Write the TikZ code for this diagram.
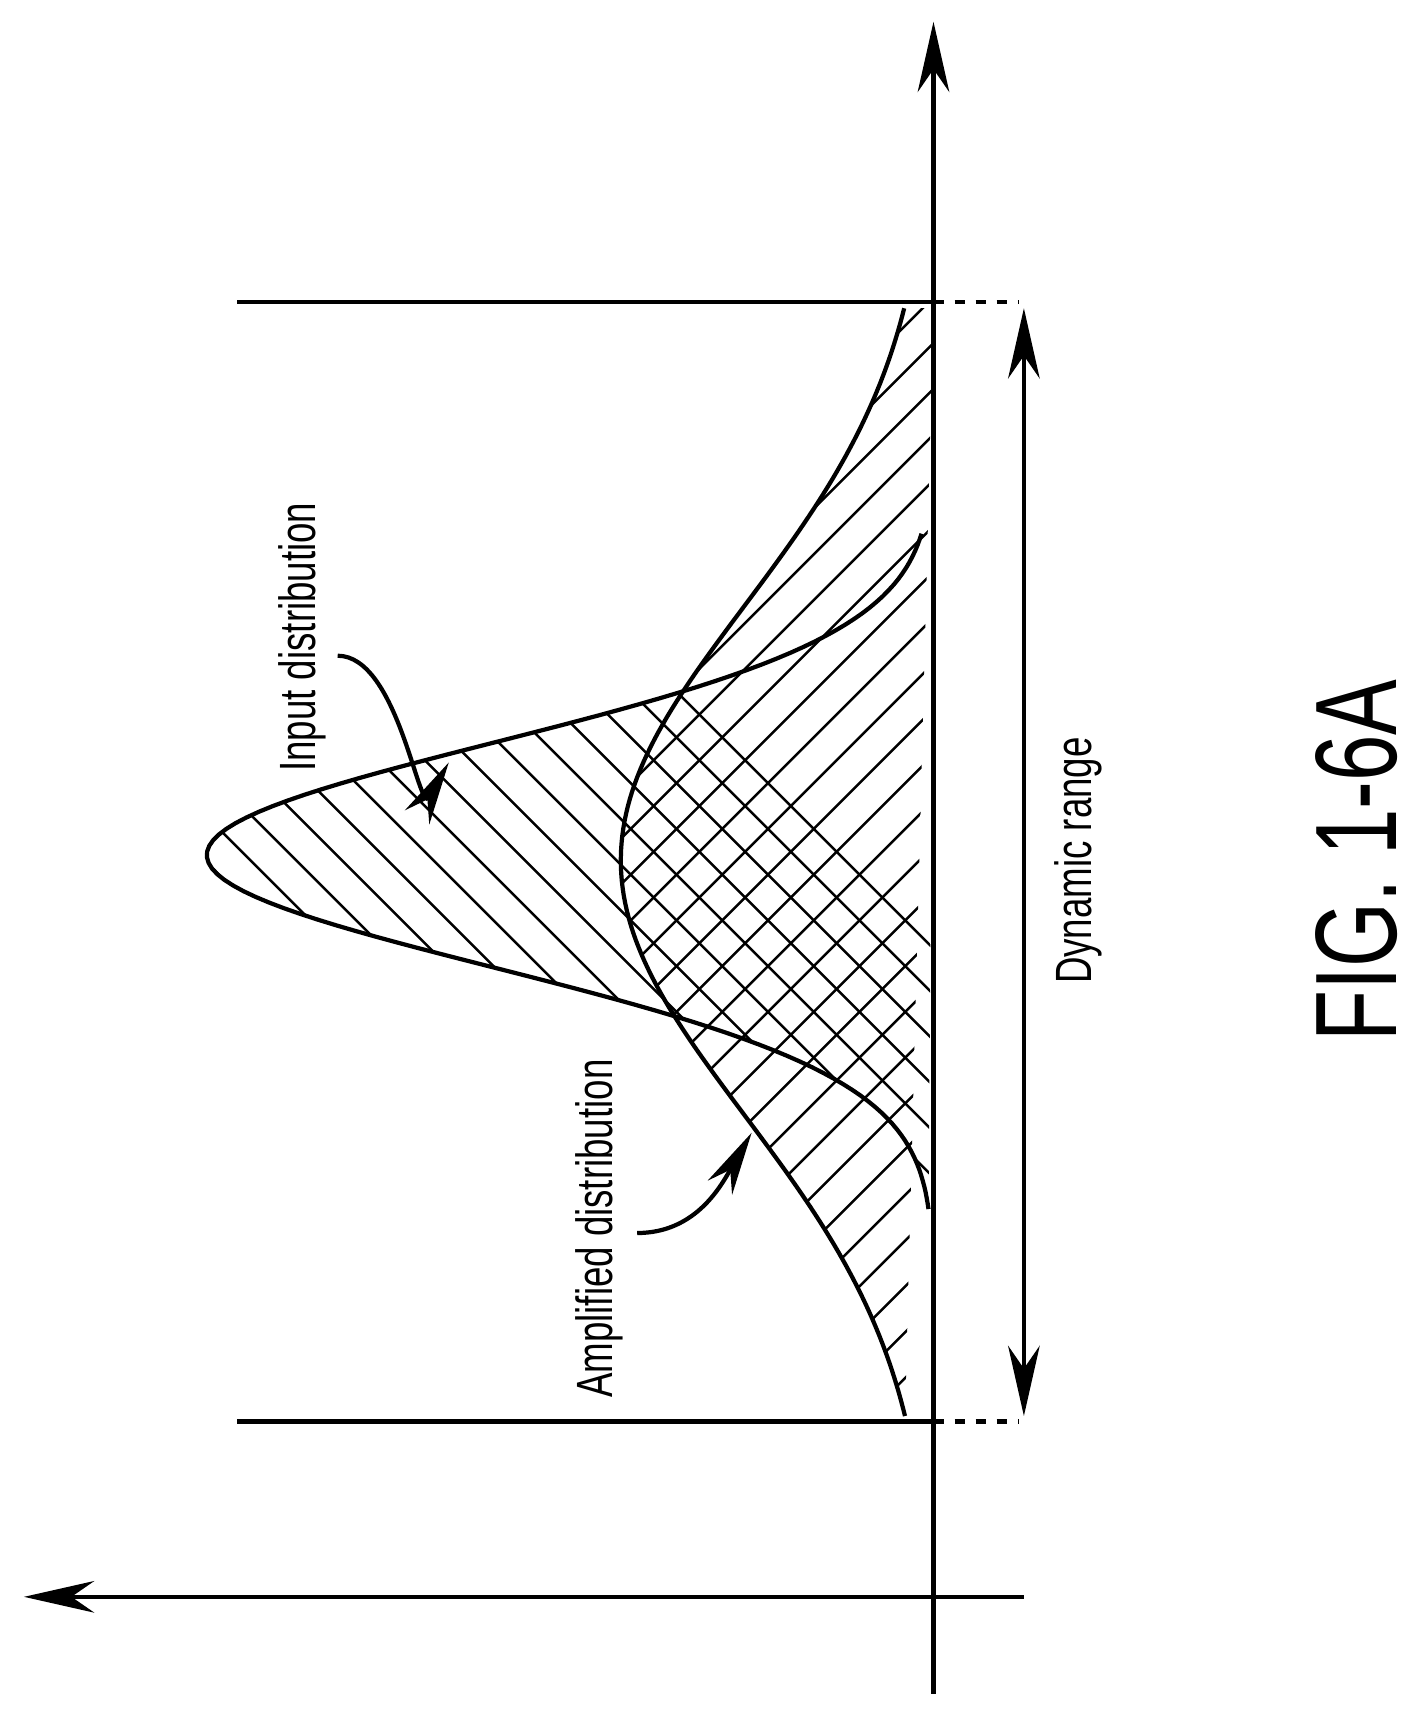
\documentclass[tikz,border=0pt]{standalone}
\usepackage{fontspec}
\newfontfamily\narrowfont[FakeStretch=0.72]{Liberation Sans}
\usetikzlibrary{arrows.meta}
\tikzset{
  axis/.style={line width=1.2pt, -{Stealth[length=20pt,width=9pt]}},
  curve/.style={line width=1.2pt},
  hatch/.style={line width=0.7pt},
  label/.style={font=\narrowfont\fontsize{14.5}{16}\selectfont, rotate=90},
  pointer/.style={line width=1.2pt, -{Stealth[length=18pt,width=8pt]}}
}
\begin{document}
\begin{tikzpicture}[x=0.010892cm, y=-0.010892cm]
\useasboundingbox (0,0) rectangle (1300,1574.5);

% axes
\draw [axis] (857,1555) -- (857,20);
\draw [axis] (940,1466) -- (22,1466);

% bounds of the dynamic range
\draw [line width=1.2pt] (218,277) -- (857,277);
\draw [line width=1.2pt] (218,1305) -- (857,1305);
\draw [line width=1.2pt, dashed] (857,277) -- (935,277);
\draw [line width=1.2pt, dashed] (857,1305) -- (935,1305);
\draw [line width=1.2pt, {Stealth[length=20pt,width=9pt]}-{Stealth[length=20pt,width=9pt]}] (940,283) -- (940,1300);

% hatching
\begin{scope}
\clip (857,490) -- plot[domain=490:1110, samples=120, variable=\t] ({857-667*exp(-((\t-785)/103)^2/2)}, \t) -- cycle;
\foreach \k in {-1400,-1358,...,0}{\draw [hatch] (\k,0) -- ++(2000,2000);}
\end{scope}
\begin{scope}
\clip (857,283) -- plot[domain=283:1300, samples=150, variable=\t] ({857-287*exp(-((\t-790)/233)^2/2)}, \t) -- cycle;
\foreach \k in {500,542,...,2300}{\draw [hatch] (\k,0) -- ++(-2000,2000);}
\end{scope}

% curves
\draw [curve] plot[domain=490:1110, samples=120, variable=\t] ({857-667*exp(-((\t-785)/103)^2/2)}, \t);
\draw [curve] plot[domain=283:1300, samples=150, variable=\t] ({857-287*exp(-((\t-790)/233)^2/2)}, \t);

% labels
\node [label] (input) at (278,585) {Input distribution};
\node [label] (ampl) at (550,1128) {Amplified distribution};
\node [label] (range) at (990,790) {Dynamic range};
\node [font=\narrowfont\fontsize{33}{38}\selectfont, rotate=90] (fig) at (1245,790) {FIG. 1-6A};

\coordinate (inputtail) at (310,602);
\coordinate (inputtip) at (412,700);
\coordinate (ampltail) at (585,1132);
\coordinate (ampltip) at (690,1040);
\draw [pointer] (inputtail) to[out=0, in=-120] (inputtip);
\draw [pointer] (ampltail) to[out=0, in=-120] (ampltip);
\end{tikzpicture}
\end{document}
